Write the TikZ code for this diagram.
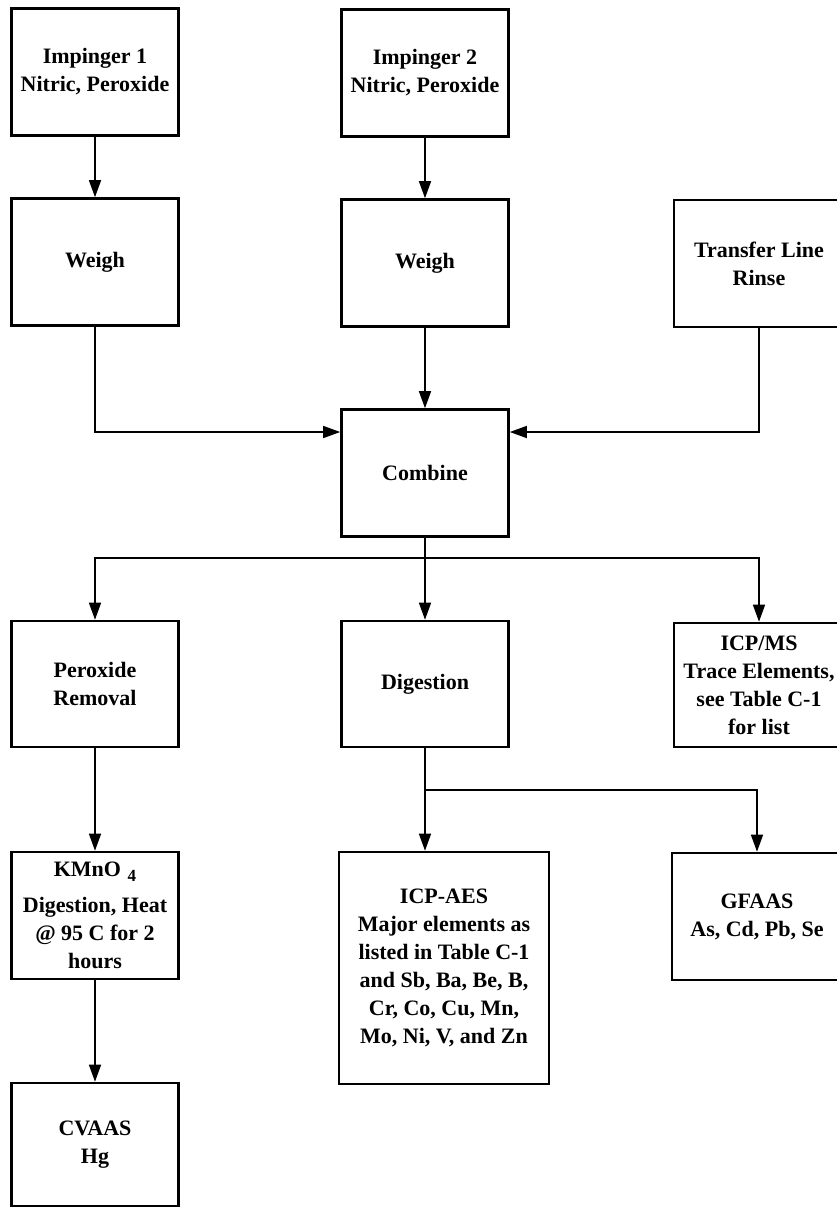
\documentclass[tikz,border=0pt]{standalone}
\usepackage{fontspec}
\setmainfont{Liberation Serif}
\usetikzlibrary{arrows.meta}
\begin{document}
\begin{tikzpicture}[x=1pt,y=-1pt,
  box/.style={draw, line width=2.6pt, minimum width=167pt, minimum height=127pt,
    inner sep=0pt, align=center, font=\bfseries\fontsize{22}{28}\selectfont},
  flow/.style={line width=1.5pt, -{Triangle[length=17pt,width=12pt]}},
  link/.style={line width=1.5pt}]
\useasboundingbox (0,0) rectangle (836,1208);

% first row: impinger samples
\node[box] (imp1) at (95,72) {Impinger 1\\Nitric, Peroxide};
\node[box] (imp2) at (425,73) {Impinger 2\\Nitric, Peroxide};

% second row: weighing and rinse
\node[box] (weigh1) at (95,262) {Weigh};
\node[box] (weigh2) at (425,263) {Weigh};
\node[box, minimum width=170pt] (rinse) at (759,263.5) {Transfer Line\\Rinse};

% combined sample
\node[box] (combine) at (425,473) {Combine};

% third row
\node[box, minimum height=126pt] (perox) at (95,684) {Peroxide\\Removal};
\node[box, minimum height=126pt] (digest) at (425,684) {Digestion};
\node[box, minimum width=170pt, minimum height=124pt] (icpms) at (759,685)
  {ICP/MS\\Trace Elements,\\see Table C-1\\for list};

% fourth row
\node[box] (kmno) at (95,915.5)
  {KMnO\hspace{0.3em}\raisebox{-5pt}{\fontsize{17}{17}\selectfont 4}\\[8pt]Digestion, Heat\\@ 95 C for 2\\hours};
\node[box, minimum width=210pt, minimum height=232pt] (icpaes) at (444,968)
  {ICP-AES\\Major elements as\\listed in Table C-1\\and Sb, Ba, Be, B,\\Cr, Co, Cu, Mn,\\Mo, Ni, V, and Zn};
\node[box, minimum width=170pt] (gfaas) at (757,916.5) {GFAAS\\As, Cd, Pb, Se};

% final analysis
\node[box, minimum height=123pt] (cvaas) at (95,1144.5) {CVAAS\\Hg};

% junction points of the connectors
\coordinate (cin) at (425,432);
\coordinate (bus) at (425,558);
\coordinate (split) at (425,790);

% connectors
\draw[flow] (imp1) -- (weigh1);
\draw[flow] (imp2) -- (weigh2);
\draw[flow] (weigh2) -- (combine);
\draw[flow] (weigh1.south) |- (combine.west |- cin);
\draw[flow] (rinse.south) |- (combine.east |- cin);
\draw[flow] (combine) -- (digest);
\draw[flow] (combine.south |- bus) -| (perox.north);
\draw[flow] (combine.south |- bus) -| (icpms.north);
\draw[flow] (perox) -- (kmno);
\draw[flow] (kmno) -- (cvaas);
\draw[link] (digest.south) -- (split);
\draw[flow] (split) -- (split |- icpaes.north);
\draw[flow] (split) -| (gfaas.north);
\end{tikzpicture}
\end{document}
